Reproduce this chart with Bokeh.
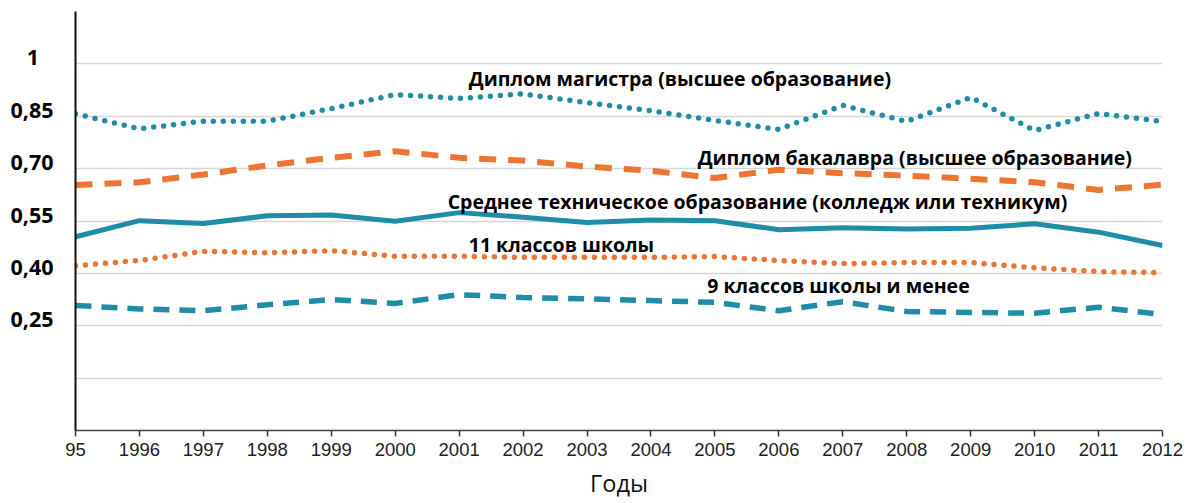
from bokeh.plotting import figure
from bokeh.models import FixedTicker, Label
from bokeh.embed import file_html
from bokeh.resources import INLINE

# ---------------- data ----------------
years = list(range(1995, 2013))
year_labels = ["95"] + [str(y) for y in range(1996, 2013)]

masters = [0.857, 0.814, 0.836, 0.836, 0.872, 0.912, 0.901, 0.914, 0.889,
           0.866, 0.838, 0.812, 0.881, 0.835, 0.904, 0.809, 0.858, 0.835]
bachelors = [0.653, 0.661, 0.683, 0.709, 0.731, 0.750, 0.731, 0.723, 0.706,
             0.694, 0.673, 0.697, 0.687, 0.680, 0.671, 0.661, 0.639, 0.654]
college = [0.505, 0.551, 0.543, 0.565, 0.567, 0.549, 0.574, 0.561, 0.546,
           0.553, 0.551, 0.525, 0.531, 0.527, 0.529, 0.542, 0.518, 0.480]
school11 = [0.422, 0.437, 0.463, 0.459, 0.465, 0.449, 0.449, 0.446, 0.446,
            0.446, 0.448, 0.437, 0.428, 0.431, 0.431, 0.416, 0.405, 0.402]
school9 = [0.308, 0.298, 0.293, 0.310, 0.325, 0.314, 0.339, 0.331, 0.327,
           0.322, 0.317, 0.293, 0.319, 0.291, 0.288, 0.286, 0.303, 0.282]

grid_values = [-0.05, 0.10, 0.25, 0.40, 0.55, 0.70, 0.85, 1.00, 1.15]
y_tick_values = [0.25, 0.40, 0.55, 0.70, 0.85, 1.00]
y_tick_labels = ["0,25", "0,40", "0,55", "0,70", "0,85", "1\u2007\u200a"]

series_names = [
    "Диплом магистра (высшее образование)",
    "Диплом бакалавра (высшее образование)",
    "Среднее техническое образование (колледж или техникум)",
    "11 классов школы",
    "9 классов школы и менее",
]
# label anchor positions (left edge, vertical middle) in data units
label_x = [2001.15, 2004.73, 2000.82, 2001.15, 2004.88]
label_y = [0.958, 0.732, 0.606, 0.482, 0.365]

TEAL = "#1f8ca8"
ORANGE = "#ee7431"

# ---------------- figure ----------------
p = figure(width=1188, height=503, output_backend="svg", toolbar_location=None,
           x_range=(1995, 2012), y_range=(-0.05, 1.15),
           min_border_left=75, min_border_right=26, min_border_top=11,
           min_border_bottom=73)
p.outline_line_color = None
p.background_fill_color = "white"
p.border_fill_color = "white"

# grid
p.xgrid.grid_line_color = None
p.ygrid.ticker = FixedTicker(ticks=grid_values)
p.ygrid.grid_line_color = "#d6d6d6"
p.ygrid.grid_line_width = 1.5

# y axis: labels sit slightly above their gridlines
label_offset = 0.02
pos = [round(v + label_offset, 4) for v in y_tick_values]
p.yaxis.ticker = FixedTicker(ticks=pos)
p.yaxis.major_label_overrides = {t: s for t, s in zip(pos, y_tick_labels)}
p.yaxis.major_tick_line_color = None
p.yaxis.minor_tick_line_color = None
p.yaxis.axis_line_color = "#111111"
p.yaxis.axis_line_width = 2
p.yaxis.major_label_text_font = "Open Sans"
p.yaxis.major_label_text_font_style = "bold"
p.yaxis.major_label_text_font_size = "21.5px"
p.yaxis.major_label_text_color = "#000000"
p.yaxis.major_label_standoff = 16

# x axis
p.xaxis.ticker = FixedTicker(ticks=years)
p.xaxis.major_label_overrides = {y: s for y, s in zip(years, year_labels)}
p.xaxis.minor_tick_line_color = None
p.xaxis.major_tick_in = 0
p.xaxis.major_tick_out = 6
p.xaxis.major_tick_line_color = "#333333"
p.xaxis.major_tick_line_width = 1.5
p.xaxis.axis_line_color = "#444444"
p.xaxis.axis_line_width = 1.5
p.xaxis.major_label_text_font = "Liberation Sans"
p.xaxis.major_label_text_font_size = "18.5px"
p.xaxis.major_label_text_color = "#222222"
p.xaxis.major_label_standoff = 6
p.xaxis.axis_label = "Годы"
p.xaxis.axis_label_text_font = "Open Sans"
p.xaxis.axis_label_text_font_style = "normal"
p.xaxis.axis_label_text_font_size = "23.5px"
p.xaxis.axis_label_text_color = "#111111"
p.xaxis.axis_label_standoff = 8

# ---------------- lines ----------------
p.line(years, school9, line_color=TEAL, line_width=5.5, line_dash="16 10")
p.line(years, school11, line_color=ORANGE, line_width=5.5, line_dash="0 10",
       line_cap="round")
p.line(years, college, line_color=TEAL, line_width=5, line_join="round")
p.line(years, bachelors, line_color=ORANGE, line_width=6, line_dash="17 12")
p.line(years, masters, line_color=TEAL, line_width=5.5, line_dash="0 10",
       line_cap="round")

# ---------------- annotations ----------------
for name, lx, ly in zip(series_names, label_x, label_y):
    p.add_layout(Label(x=lx, y=ly, text=name, text_align="left",
                       text_baseline="middle", text_font="Open Sans",
                       text_font_style="bold", text_font_size="19.5px",
                       text_color="#000000"))

open("out.html", "w").write(file_html(p, INLINE))
